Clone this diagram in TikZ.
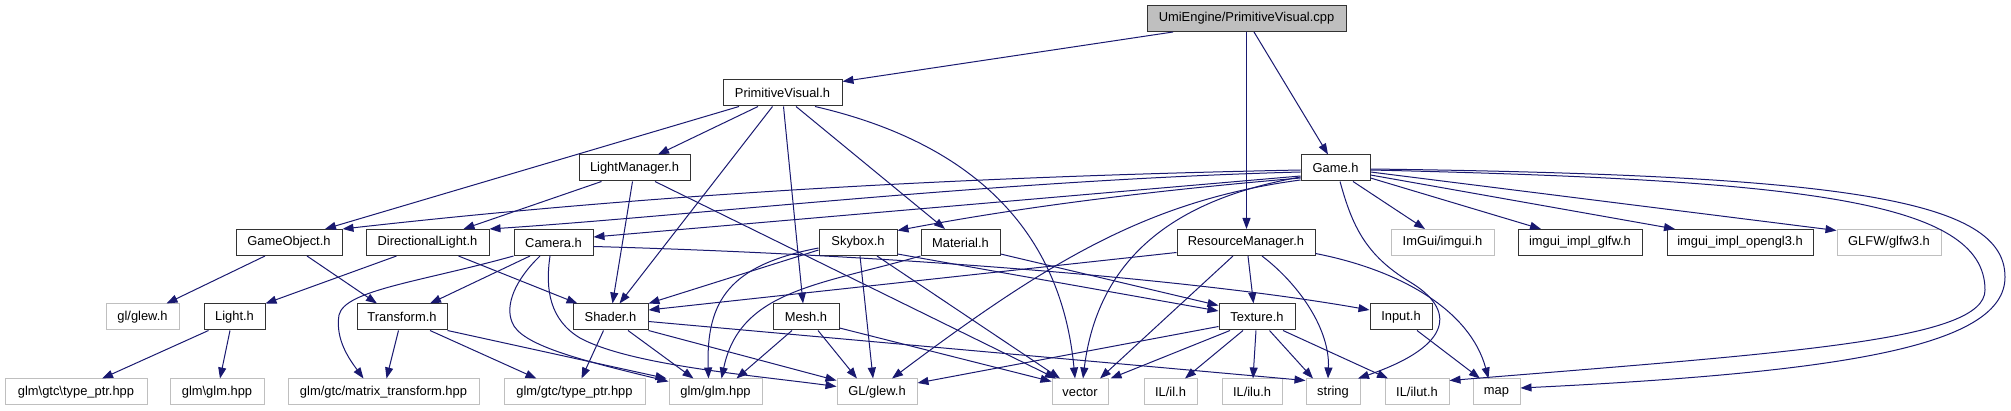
\documentclass[tikz,border=0pt]{standalone}
\usepackage{fontspec}
\setmainfont{Liberation Sans}
\usetikzlibrary{arrows.meta}
\definecolor{edgec}{HTML}{191970}
\definecolor{lgray}{HTML}{BFBFBF}
\definecolor{bordc}{HTML}{333333}
\begin{document}
\begin{tikzpicture}[x=1pt,y=-1pt,
  every node/.style={font=\fontsize{12.9}{15}\selectfont, inner sep=0pt, minimum height=26pt, fill=white},
  box/.style={draw=bordc, line width=1pt},
  sys/.style={draw=lgray, line width=1pt},
  topbox/.style={draw=bordc, line width=1pt, fill=lgray},
  e/.style={draw=edgec, line width=1pt, -{Triangle[length=11pt,width=8pt]}}
]
\useasboundingbox (0,0) rectangle (2011,411);
% row 0
\node[topbox, minimum width=199pt] (cpp) at (1246.5,18.5) {UmiEngine/PrimitiveVisual.cpp};
% row 1
\node[box, minimum width=119pt] (pv) at (782.5,93) {PrimitiveVisual.h};
% row 2
\node[box, minimum width=111pt] (lm) at (634.5,168) {LightManager.h};
\node[box, minimum width=69pt] (game) at (1335.5,168) {Game.h};
% row 3
\node[box, minimum width=106pt] (go) at (289,242.5) {GameObject.h};
\node[box, minimum width=123pt] (dl) at (427.5,242.5) {DirectionalLight.h};
\node[box, minimum width=79pt] (cam) at (553.5,242.5) {Camera.h};
\node[box, minimum width=78pt] (sky) at (858,242.5) {Skybox.h};
\node[box, minimum width=79pt] (mat) at (960.5,242.5) {Material.h};
\node[box, minimum width=138pt] (rm) at (1246,242.5) {ResourceManager.h};
\node[sys, minimum width=103pt] (imgui) at (1442.5,242.5) {ImGui/imgui.h};
\node[box, minimum width=124pt] (gimpl) at (1580,242.5) {imgui\_impl\_glfw.h};
\node[box, minimum width=146pt] (oimpl) at (1740,242.5) {imgui\_impl\_opengl3.h};
\node[sys, minimum width=104pt] (glfw) at (1889,242.5) {GLFW/glfw3.h};
% row 4
\node[sys, minimum width=73pt] (glewl) at (142.5,317) {gl/glew.h};
\node[box, minimum width=61pt] (light) at (234.5,317) {Light.h};
\node[box, minimum width=90pt] (tr) at (402,317) {Transform.h};
\node[box, minimum width=75pt] (shader) at (610.5,317) {Shader.h};
\node[box, minimum width=66pt] (mesh) at (806,317) {Mesh.h};
\node[box, minimum width=76pt] (tex) at (1257,317) {Texture.h};
\node[box, minimum width=62pt] (input) at (1401,317) {Input.h};
% row 5
\node[sys, minimum width=142pt] (gtcbs) at (76,392) {glm\textbackslash gtc\textbackslash type\_ptr.hpp};
\node[sys, minimum width=94pt] (glmbs) at (217,392) {glm\textbackslash glm.hpp};
\node[sys, minimum width=191pt] (mt) at (383.5,392) {glm/gtc/matrix\_transform.hpp};
\node[sys, minimum width=141pt] (gtc) at (574.5,392) {glm/gtc/type\_ptr.hpp};
\node[sys, minimum width=93pt] (glm) at (715.5,392) {glm/glm.hpp};
\node[sys, minimum width=80pt] (glew) at (877,392) {GL/glew.h};
\node[sys, minimum width=56pt] (vector) at (1080,392) {vector};
\node[sys, minimum width=53pt] (il) at (1170.5,392) {IL/il.h};
\node[sys, minimum width=60pt] (ilu) at (1252,392) {IL/ilu.h};
\node[sys, minimum width=54pt] (string) at (1333,392) {string};
\node[sys, minimum width=64pt] (ilut) at (1417,392) {IL/ilut.h};
\node[sys, minimum width=47pt] (map) at (1496.5,392) {map};
% cpp
\draw[e] ([xshift=-73.5pt]cpp.south) -- ([yshift=-2pt]pv.north east);
\draw[e] (cpp.south) -- (cpp.south |- rm.north);
\draw[e] ([xshift=7.5pt]cpp.south) -- ([xshift=-7.5pt]game.north);
% PrimitiveVisual.h
\draw[e] ([xshift=-43.5pt]pv.south) -- ([xshift=36pt]go.north);
\draw[e] ([xshift=-24.5pt]pv.south) -- ([xshift=23.5pt]lm.north);
\draw[e] ([xshift=-10pt]pv.south) -- ([xshift=9pt]shader.north);
\draw[e] ([xshift=1pt]pv.south) -- ([xshift=-3pt]mesh.north);
\draw[e] ([xshift=13.5pt]pv.south) -- ([xshift=-15.5pt]mat.north);
\draw[e] ([xshift=32.5pt]pv.south) .. controls (960,140) and (1060,220) .. ([xshift=-5pt]vector.north);
% LightManager.h
\draw[e] ([xshift=-33pt]lm.south) -- ([xshift=36pt]dl.north);
\draw[e] ([xshift=-2pt]lm.south) -- ([xshift=2pt]shader.north);
\draw[e] ([xshift=20.5pt]lm.south) -- ([xshift=-24pt]vector.north);
% Game.h
\draw[e] ([yshift=-2pt]game.west) .. controls (900,178) and (600,200) .. (go.north east);
\draw[e] ([yshift=-4pt]game.west) .. controls (1000,180) and (700,215) .. (dl.north east);
\draw[e] ([yshift=-8pt]game.west) -- ([yshift=5.5pt]cam.east);
\draw[e] ([yshift=-10pt]game.west) .. controls (1100,195) and (980,215) .. ([yshift=-1.5pt]sky.north east);
\draw[e] ([yshift=-9pt]game.west) .. controls (1200,195) and (1100,240) .. ([xshift=3pt]vector.north);
\draw[e] ([yshift=-12pt]game.west) .. controls (1150,200) and (1050,260) .. ([xshift=15pt]glew.north);
\draw[e] ([xshift=17.5pt]game.south) -- ([xshift=-17.5pt]imgui.north);
\draw[e] ([yshift=-10pt]game.east) -- ([xshift=-39pt]gimpl.north);
\draw[e] ([yshift=-7pt]game.east) -- ([xshift=-65pt]oimpl.north);
\draw[e] ([yshift=-4pt]game.east) -- ([yshift=-1.5pt]glfw.north west);
\draw[e] ([yshift=-2pt]game.east) .. controls (1800,180) and (1985,200) .. (1985,290) .. controls (1985,340) and (1800,352) .. ([yshift=-2pt]ilut.north east);
\draw[e] ([yshift=-1pt]game.east) .. controls (1850,175) and (2005,200) .. (2005,277) .. controls (2005,345) and (1850,372) .. ([yshift=4pt]map.east);
\draw[e] ([xshift=4.5pt]game.south) .. controls (1352,225) and (1365,255) .. (1410,282) .. controls (1455,309) and (1455,345) .. ([xshift=25pt]string.north);
% Camera.h
\draw[e] ([xshift=-23.5pt]cam.south) -- ([xshift=28pt]tr.north);
\draw[e] (cam.south west) .. controls (420,282) and (345,290) .. (339,315) .. controls (335,340) and (350,360) .. ([xshift=-20pt]mt.north);
\draw[e] ([xshift=-13.5pt]cam.south) .. controls (515,280) and (505,305) .. (512,322) .. controls (520,345) and (580,360) .. ([yshift=-3pt]glm.north west);
\draw[e] ([xshift=-3.5pt]cam.south) .. controls (545,290) and (550,320) .. (580,338) .. controls (630,365) and (750,375) .. ([yshift=-8pt]glew.north west);
\draw[e] ([yshift=-4pt]cam.east) .. controls (900,255) and (1200,280) .. ([yshift=7pt]input.west);
% DirectionalLight.h
\draw[e] ([xshift=-31pt]dl.south) -- (light.north east);
\draw[e] ([xshift=31pt]dl.south) -- ([xshift=-33pt]shader.north);
% GameObject.h
\draw[e] ([xshift=-24pt]go.south) -- ([xshift=24pt]glewl.north);
\draw[e] ([xshift=18pt]go.south) -- ([xshift=-25pt]tr.north);
% Light.h
\draw[e] ([xshift=-26pt]light.south) -- ([xshift=26pt]gtcbs.north);
\draw[e] ([xshift=-4.5pt]light.south) -- ([xshift=3pt]glmbs.north);
% Transform.h
\draw[e] ([xshift=-3.5pt]tr.south) -- ([xshift=3pt]mt.north);
\draw[e] ([xshift=28pt]tr.south) -- ([xshift=-38pt]gtc.north);
\draw[e] (tr.south east) -- ([xshift=-2pt]glm.north west);
% Shader.h
\draw[e] ([xshift=-7pt]shader.south) -- ([xshift=7pt]gtc.north);
\draw[e] ([xshift=17.5pt]shader.south) -- ([xshift=-22pt]glm.north);
\draw[e] (shader.south east) -- ([yshift=-2pt]glew.north west);
\draw[e] ([yshift=-4.5pt]shader.east) -- ([yshift=-2pt]string.north west);
% Mesh.h
\draw[e] ([xshift=-14pt]mesh.south) -- ([xshift=21pt]glm.north);
\draw[e] ([xshift=12pt]mesh.south) -- ([xshift=-20pt]glew.north);
\draw[e] ([yshift=-11pt]mesh.east) -- ([yshift=-3pt]vector.north west);
% Skybox.h
\draw[e] ([yshift=-7.5pt]sky.west) -- (shader.north east);
\draw[e] ([yshift=-5.5pt]sky.west) .. controls (730,265) and (706,300) .. ([xshift=-7pt]glm.north);
\draw[e] ([xshift=2pt]sky.south) -- ([xshift=-4pt]glew.north);
\draw[e] ([xshift=19pt]sky.south) -- ([xshift=-20pt]vector.north);
\draw[e] ([yshift=-11.5pt]sky.east) -- ([yshift=6pt]tex.west);
% Material.h
\draw[e] (mat.south west) .. controls (820,285) and (740,290) .. ([xshift=6pt]glm.north);
\draw[e] ([yshift=-11.5pt]mat.east) -- ([yshift=-2pt]tex.north west);
% ResourceManager.h
\draw[e] ([yshift=-10pt]rm.west) -- ([yshift=7pt]shader.east);
\draw[e] ([xshift=-13pt]rm.south) -- ([xshift=20pt]vector.north);
\draw[e] ([xshift=2pt]rm.south) -- ([xshift=-3.5pt]tex.north);
\draw[e] ([xshift=16pt]rm.south) .. controls (1300,285) and (1330,330) .. ([xshift=-5pt]string.north);
\draw[e] ([yshift=-11pt]rm.east) .. controls (1400,270) and (1470,310) .. ([xshift=-8pt]map.north);
% Texture.h
\draw[e] ([yshift=-9.5pt]tex.west) -- ([yshift=9pt]glew.east);
\draw[e] ([xshift=-27pt]tex.south) -- ([xshift=2pt]vector.north east);
\draw[e] ([xshift=-14pt]tex.south) -- ([xshift=14.5pt]il.north);
\draw[e] ([xshift=-1pt]tex.south) -- ([xshift=1pt]ilu.north);
\draw[e] ([xshift=12.5pt]tex.south) -- ([xshift=-20pt]string.north);
\draw[e] ([xshift=26pt]tex.south) -- ([xshift=-29pt]ilut.north);
% Input.h
\draw[e] ([xshift=16pt]input.south) -- ([xshift=-16.5pt]map.north);
\end{tikzpicture}
\end{document}
